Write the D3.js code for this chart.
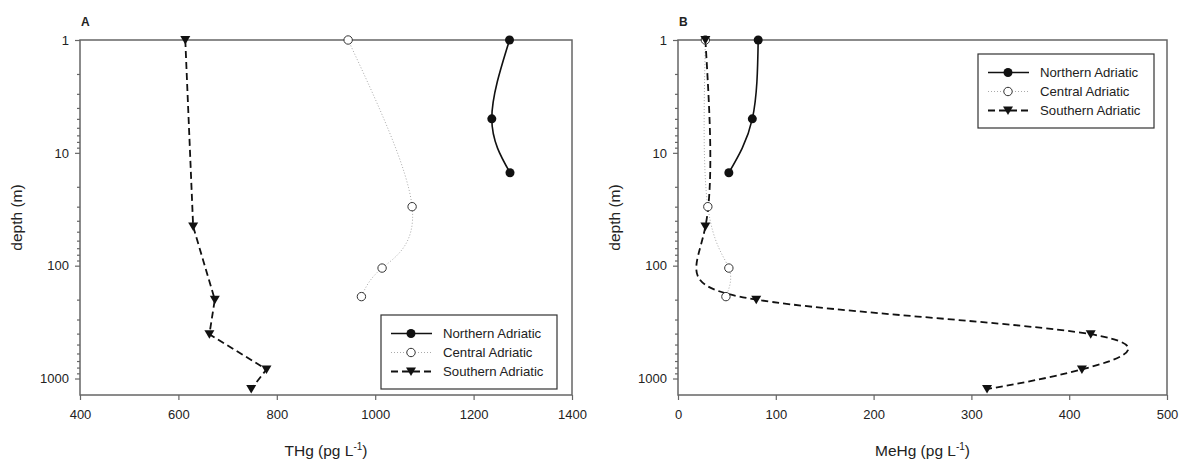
<!DOCTYPE html>
<html>
<head>
<meta charset="utf-8">
<script src="https://cdn.jsdelivr.net/npm/d3@7"></script>
<style>
	body { margin: 0; background: #fff; }
	svg text { font-family: "Liberation Sans", Arial, sans-serif; fill: #222; }
</style>
</head>
<body>
<svg id="chart" width="1179" height="461"></svg>
<script>

// depths (m) of each station profile
var depthNorth = [1, 5, 15]
var depthCentral = [1, 30, 105, 188]
var depthSouth = [1, 45, 200, 405, 830, 1240]

// panel A, THg (pg L-1)
var thgNorth = [1273, 1237, 1274]
var thgCentral = [945, 1075, 1014, 972]
var thgSouth = [614, 630, 674, 663, 779, 748]

// panel B, MeHg (pg L-1)
var mehgNorth = [82, 76, 52]
var mehgCentral = [28, 30.5, 52, 49]
var mehgSouth = [28, 28, 80, 422, 413, 316]

var seriesNames = ["Northern Adriatic", "Central Adriatic", "Southern Adriatic"]
var thgTicks = [400, 600, 800, 1000, 1200, 1400]
var mehgTicks = [0, 100, 200, 300, 400, 500]
var depthTicks = [1, 10, 100, 1000]

var axisColour = "#666"
var svg = d3.select("#chart")

function zip(depths, values) {
	return depths.map(function(d, i) { return { depth: d, value: values[i] } })
}

function drawMarker(g, kind) {
	if (kind == "filled") {
		g.append("circle").attr("r", 4.5).attr("fill", "#111")
	}
	else if (kind == "open") {
		g.append("circle").attr("r", 4.2).attr("fill", "#fff").attr("stroke", "#333").attr("stroke-width", 1)
	}
	else {
		g.append("path").attr("d", "M-5,-4L5,-4L0,4.5Z").attr("fill", "#111")
	}
}

function drawPanel(p) {

	var x = d3.scaleLinear().domain(p.xDomain).range([p.left, p.right])
	var y = d3.scaleLog().domain([1, 1400]).range([p.top, p.bottom])

	var panel = svg.append("g")

	// y axis, majors with labels plus log minors
	var minors = []
	;[1, 10, 100].forEach(function(base) {
		for (var k = 2; k <= 9; k++) minors.push(base * k)
	})

	panel.append("g")
		.attr("transform", "translate(" + p.left + ",0)")
		.call(d3.axisLeft(y).tickValues(depthTicks).tickFormat(d3.format("d")).tickSize(5).tickPadding(6))

	panel.append("g")
		.attr("transform", "translate(" + p.left + ",0)")
		.call(d3.axisLeft(y).tickValues(minors).tickFormat("").tickSize(3))

	panel.append("g")
		.attr("transform", "translate(0," + p.bottom + ")")
		.call(d3.axisBottom(x).tickValues(p.xTicks).tickFormat(d3.format("d")).tickSize(5).tickPadding(10))

	panel.selectAll(".domain").remove()
	panel.selectAll(".tick line").attr("stroke", axisColour).attr("stroke-width", 1.2)
	panel.selectAll(".tick text").style("font-size", "13px").style("fill", "#222")

	// frame
	panel.append("rect")
		.attr("x", p.left)
		.attr("y", p.top)
		.attr("width", p.right - p.left)
		.attr("height", p.bottom - p.top)
		.attr("fill", "none")
		.attr("stroke", axisColour)
		.attr("stroke-width", 1.5)

	panel.append("text")
		.attr("x", p.left + 1)
		.attr("y", 26)
		.style("font-size", "12px")
		.style("font-weight", "bold")
		.text(p.letter)

	panel.append("text")
		.attr("transform", "translate(" + (p.left - 58) + "," + ((p.top + p.bottom) / 2) + ") rotate(-90)")
		.attr("text-anchor", "middle")
		.style("font-size", "15.5px")
		.text("depth (m)")

	var title = panel.append("text")
		.attr("x", (p.left + p.right) / 2)
		.attr("y", 456)
		.attr("text-anchor", "middle")
		.style("font-size", "15.5px")
	title.append("tspan").text(p.xTitle + " (pg L")
	title.append("tspan").attr("dy", -6).style("font-size", "10px").text("-1")
	title.append("tspan").attr("dy", 6).text(")")

	// profiles
	var plot = panel.append("g")

	p.series.forEach(function(s) {
		var line = d3.line()
			.x(function(d) { return x(d.value) })
			.y(function(d) { return y(d.depth) })
			.curve(s.curve)

		plot.append("path")
			.datum(s.data)
			.attr("d", line)
			.attr("fill", "none")
			.attr("stroke", s.stroke)
			.attr("stroke-width", s.width)
			.attr("stroke-dasharray", s.dash)
	})

	p.series.forEach(function(s) {
		plot.selectAll(null)
			.data(s.data)
			.enter().append("g")
			.attr("transform", function(d) { return "translate(" + x(d.value) + "," + y(d.depth) + ")" })
			.each(function() { drawMarker(d3.select(this), s.marker) })
	})

	// legend
	var lw = 176, lh = 74
	var lx = p.right - p.legendRight - lw
	var ly = p.legendTop != null ? p.top + p.legendTop : p.bottom - p.legendBottom - lh

	var legend = panel.append("g").attr("transform", "translate(" + lx + "," + ly + ")")

	legend.append("rect")
		.attr("width", lw)
		.attr("height", lh)
		.attr("fill", "#fff")
		.attr("stroke", "#333")
		.attr("stroke-width", 1.2)

	p.series.forEach(function(s, i) {
		var row = legend.append("g").attr("transform", "translate(0," + (18.5 + i * 19) + ")")
		row.append("line")
			.attr("x1", 10).attr("x2", 51)
			.attr("stroke", s.stroke)
			.attr("stroke-width", s.width)
			.attr("stroke-dasharray", s.dash)
		var m = row.append("g").attr("transform", "translate(30,0)")
		drawMarker(m, s.marker)
		row.append("text")
			.attr("x", 62)
			.attr("y", 4.5)
			.style("font-size", "13.2px")
			.text(seriesNames[i])
	})
}

function makeSeries(north, central, south, southCurve) {
	return [
		{ data: zip(depthNorth, north), stroke: "#111", width: 1.6, dash: null, marker: "filled", curve: d3.curveNatural },
		{ data: zip(depthCentral, central), stroke: "#aaa", width: 1, dash: "1,2", marker: "open", curve: d3.curveNatural },
		{ data: zip(depthSouth, south), stroke: "#111", width: 1.8, dash: "7,4", marker: "triangle", curve: southCurve }
	]
}

drawPanel({
	left: 80, right: 572, top: 40, bottom: 395,
	xDomain: [400, 1400], xTicks: thgTicks,
	letter: "A", xTitle: "THg",
	series: makeSeries(thgNorth, thgCentral, thgSouth, d3.curveLinear),
	legendRight: 15, legendBottom: 6
})

drawPanel({
	left: 678, right: 1167, top: 40, bottom: 395,
	xDomain: [0, 500], xTicks: mehgTicks,
	letter: "B", xTitle: "MeHg",
	series: makeSeries(mehgNorth, mehgCentral, mehgSouth, d3.curveNatural),
	legendRight: 13, legendTop: 14
})

</script>
</body>
</html>
